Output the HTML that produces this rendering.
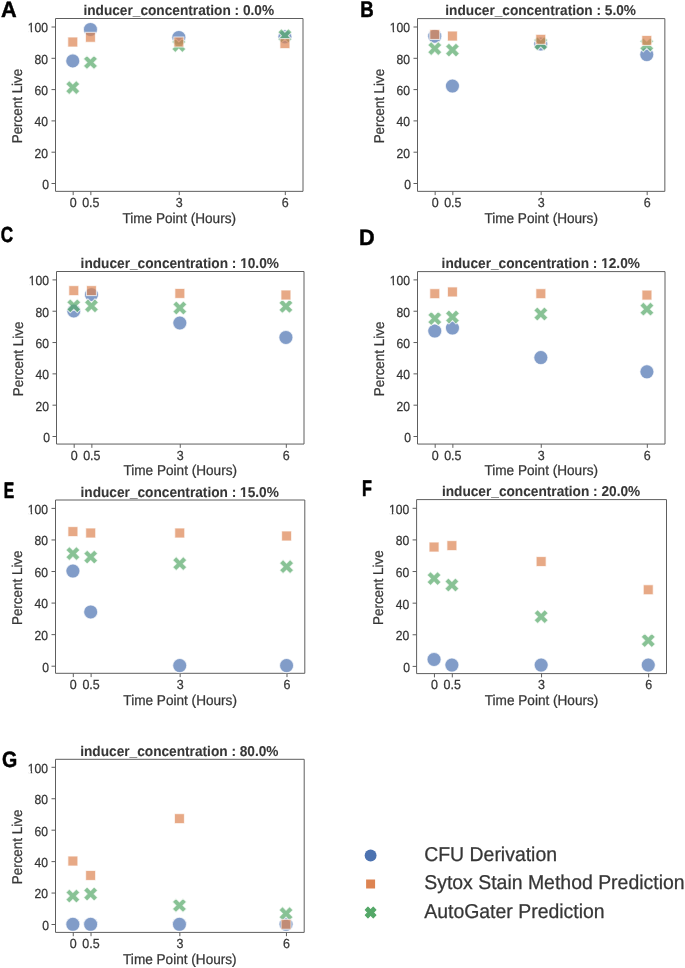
<!DOCTYPE html>
<html><head><meta charset="utf-8"><title>Percent Live vs Time Point</title>
<style>
html,body{margin:0;padding:0;background:#fff;}
body{width:685px;height:968px;overflow:hidden;font-family:"Liberation Sans",sans-serif;}
svg{display:block;will-change:transform;}
.t{stroke:#363636;stroke-width:0.25px;}
.tb{stroke:#363636;stroke-width:0.08px;}
</style></head><body>
<svg width="685" height="968" viewBox="0 0 685 968" font-family="'Liberation Sans', sans-serif" text-rendering="geometricPrecision" fill="#363636"><g><path d="M55.5 18.5H303V191.35H55.5Z" fill="none" stroke="#5e5e5e" stroke-width="1.0"/><line x1="51.5" y1="183.5" x2="55.5" y2="183.5" stroke="#5e5e5e" stroke-width="1.0"/><text class="t" transform="translate(49 188.9) scale(0.97 1.06)" text-anchor="end" font-size="12.5">0</text><line x1="51.5" y1="152.2" x2="55.5" y2="152.2" stroke="#5e5e5e" stroke-width="1.0"/><text class="t" transform="translate(48.1 157.6) scale(0.97 1.06)" text-anchor="end" font-size="12.5">20</text><line x1="51.5" y1="120.9" x2="55.5" y2="120.9" stroke="#5e5e5e" stroke-width="1.0"/><text class="t" transform="translate(48.1 126.3) scale(0.97 1.06)" text-anchor="end" font-size="12.5">40</text><line x1="51.5" y1="89.6" x2="55.5" y2="89.6" stroke="#5e5e5e" stroke-width="1.0"/><text class="t" transform="translate(48.1 95) scale(0.97 1.06)" text-anchor="end" font-size="12.5">60</text><line x1="51.5" y1="58.3" x2="55.5" y2="58.3" stroke="#5e5e5e" stroke-width="1.0"/><text class="t" transform="translate(48.1 63.7) scale(0.97 1.06)" text-anchor="end" font-size="12.5">80</text><line x1="51.5" y1="27" x2="55.5" y2="27" stroke="#5e5e5e" stroke-width="1.0"/><text class="t" transform="translate(48.1 32.4) scale(0.97 1.06)" text-anchor="end" font-size="12.5">100</text><g transform="translate(48.1 32.4) scale(0.97 1.06)" fill="#fff"><rect x="-20.6" y="-1.6" width="2.73" height="2.6"/><rect x="-16.45" y="-1.6" width="2.63" height="2.6"/></g><line x1="73.18" y1="191.35" x2="73.18" y2="195.15" stroke="#5e5e5e" stroke-width="1.0"/><text class="t" transform="translate(73.18 207.15) scale(1 1.06)" text-anchor="middle" font-size="12.5">0</text><line x1="90.86" y1="191.35" x2="90.86" y2="195.15" stroke="#5e5e5e" stroke-width="1.0"/><text class="t" transform="translate(90.86 207.15) scale(1 1.06)" text-anchor="middle" font-size="12.5">0.5</text><line x1="179.25" y1="191.35" x2="179.25" y2="195.15" stroke="#5e5e5e" stroke-width="1.0"/><text class="t" transform="translate(179.25 207.15) scale(1 1.06)" text-anchor="middle" font-size="12.5">3</text><line x1="285.32" y1="191.35" x2="285.32" y2="195.15" stroke="#5e5e5e" stroke-width="1.0"/><text class="t" transform="translate(285.32 207.15) scale(1 1.06)" text-anchor="middle" font-size="12.5">6</text><text class="t" transform="translate(179.25 222.75) scale(1 1.04)" text-anchor="middle" font-size="13.6">Time Point (Hours)</text><text class="t" transform="translate(21.6 106.02) rotate(-90) scale(0.987 1.04)" text-anchor="middle" font-size="13.6">Percent Live</text><text class="tb" transform="translate(178.75 15.3) scale(1 1.04)" text-anchor="middle" font-size="13.68" font-weight="bold">inducer_concentration : 0.0%</text><text transform="translate(1.03 16.62) scale(0.983 1)" font-size="22.1" font-weight="bold" fill="#000" stroke="#000" stroke-width="0.46" stroke-linejoin="round">A</text><circle cx="72.78" cy="60.88" r="7.05" fill="#4C72B0" fill-opacity="0.7" stroke="#fff" stroke-opacity="0.7" stroke-width="1.1"/><circle cx="90.46" cy="29.44" r="7.05" fill="#4C72B0" fill-opacity="0.7" stroke="#fff" stroke-opacity="0.7" stroke-width="1.1"/><circle cx="178.85" cy="37.46" r="7.05" fill="#4C72B0" fill-opacity="0.7" stroke="#fff" stroke-opacity="0.7" stroke-width="1.1"/><circle cx="284.92" cy="36.83" r="7.05" fill="#4C72B0" fill-opacity="0.7" stroke="#fff" stroke-opacity="0.7" stroke-width="1.1"/><polygon points="69.25,80.56 72.78,84.08 76.3,80.56 79.83,84.08 76.3,87.61 79.83,91.13 76.3,94.66 72.78,91.13 69.25,94.66 65.73,91.13 69.25,87.61 65.73,84.08" fill="#55A868" fill-opacity="0.7" stroke="#fff" stroke-opacity="0.7" stroke-width="1.1" stroke-linejoin="miter"/><polygon points="86.93,55.41 90.46,58.93 93.98,55.41 97.51,58.93 93.98,62.46 97.51,65.98 93.98,69.51 90.46,65.98 86.93,69.51 83.41,65.98 86.93,62.46 83.41,58.93" fill="#55A868" fill-opacity="0.7" stroke="#fff" stroke-opacity="0.7" stroke-width="1.1" stroke-linejoin="miter"/><polygon points="175.32,38.43 178.85,41.95 182.38,38.43 185.9,41.95 182.38,45.48 185.9,49 182.38,52.53 178.85,49 175.32,52.53 171.8,49 175.32,45.48 171.8,41.95" fill="#55A868" fill-opacity="0.7" stroke="#fff" stroke-opacity="0.7" stroke-width="1.1" stroke-linejoin="miter"/><polygon points="281.4,28.68 284.92,32.21 288.45,28.68 291.97,32.21 288.45,35.73 291.97,39.26 288.45,42.78 284.92,39.26 281.4,42.78 277.87,39.26 281.4,35.73 277.87,32.21" fill="#55A868" fill-opacity="0.7" stroke="#fff" stroke-opacity="0.7" stroke-width="1.1" stroke-linejoin="miter"/><rect x="67.79" y="37.03" width="9.97" height="9.97" fill="#DD8452" fill-opacity="0.7" stroke="#fff" stroke-opacity="0.7" stroke-width="1.1"/><rect x="85.47" y="32.32" width="9.97" height="9.97" fill="#DD8452" fill-opacity="0.7" stroke="#fff" stroke-opacity="0.7" stroke-width="1.1"/><rect x="173.86" y="37.03" width="9.97" height="9.97" fill="#DD8452" fill-opacity="0.7" stroke="#fff" stroke-opacity="0.7" stroke-width="1.1"/><rect x="279.94" y="38.61" width="9.97" height="9.97" fill="#DD8452" fill-opacity="0.7" stroke="#fff" stroke-opacity="0.7" stroke-width="1.1"/></g><g><path d="M417.5 18.6H664.85V191.35H417.5Z" fill="none" stroke="#5e5e5e" stroke-width="1.0"/><line x1="413.5" y1="183.5" x2="417.5" y2="183.5" stroke="#5e5e5e" stroke-width="1.0"/><text class="t" transform="translate(411 188.9) scale(0.97 1.06)" text-anchor="end" font-size="12.5">0</text><line x1="413.5" y1="152.2" x2="417.5" y2="152.2" stroke="#5e5e5e" stroke-width="1.0"/><text class="t" transform="translate(410.1 157.6) scale(0.97 1.06)" text-anchor="end" font-size="12.5">20</text><line x1="413.5" y1="120.9" x2="417.5" y2="120.9" stroke="#5e5e5e" stroke-width="1.0"/><text class="t" transform="translate(410.1 126.3) scale(0.97 1.06)" text-anchor="end" font-size="12.5">40</text><line x1="413.5" y1="89.6" x2="417.5" y2="89.6" stroke="#5e5e5e" stroke-width="1.0"/><text class="t" transform="translate(410.1 95) scale(0.97 1.06)" text-anchor="end" font-size="12.5">60</text><line x1="413.5" y1="58.3" x2="417.5" y2="58.3" stroke="#5e5e5e" stroke-width="1.0"/><text class="t" transform="translate(410.1 63.7) scale(0.97 1.06)" text-anchor="end" font-size="12.5">80</text><line x1="413.5" y1="27" x2="417.5" y2="27" stroke="#5e5e5e" stroke-width="1.0"/><text class="t" transform="translate(410.1 32.4) scale(0.97 1.06)" text-anchor="end" font-size="12.5">100</text><g transform="translate(410.1 32.4) scale(0.97 1.06)" fill="#fff"><rect x="-20.6" y="-1.6" width="2.73" height="2.6"/><rect x="-16.45" y="-1.6" width="2.63" height="2.6"/></g><line x1="435.17" y1="191.35" x2="435.17" y2="195.15" stroke="#5e5e5e" stroke-width="1.0"/><text class="t" transform="translate(435.17 207.15) scale(1 1.06)" text-anchor="middle" font-size="12.5">0</text><line x1="452.84" y1="191.35" x2="452.84" y2="195.15" stroke="#5e5e5e" stroke-width="1.0"/><text class="t" transform="translate(452.84 207.15) scale(1 1.06)" text-anchor="middle" font-size="12.5">0.5</text><line x1="541.17" y1="191.35" x2="541.17" y2="195.15" stroke="#5e5e5e" stroke-width="1.0"/><text class="t" transform="translate(541.17 207.15) scale(1 1.06)" text-anchor="middle" font-size="12.5">3</text><line x1="647.18" y1="191.35" x2="647.18" y2="195.15" stroke="#5e5e5e" stroke-width="1.0"/><text class="t" transform="translate(647.18 207.15) scale(1 1.06)" text-anchor="middle" font-size="12.5">6</text><text class="t" transform="translate(541.17 222.75) scale(1 1.04)" text-anchor="middle" font-size="13.6">Time Point (Hours)</text><text class="t" transform="translate(383.6 106.07) rotate(-90) scale(0.987 1.04)" text-anchor="middle" font-size="13.6">Percent Live</text><text class="tb" transform="translate(540.67 15.4) scale(1 1.04)" text-anchor="middle" font-size="13.68" font-weight="bold">inducer_concentration : 5.0%</text><text transform="translate(360.17 17.02) scale(0.820 1)" font-size="22.68" font-weight="bold" fill="#000" stroke="#000" stroke-width="0.55" stroke-linejoin="round">B</text><circle cx="434.77" cy="36.2" r="7.05" fill="#4C72B0" fill-opacity="0.7" stroke="#fff" stroke-opacity="0.7" stroke-width="1.1"/><circle cx="452.44" cy="86.04" r="7.05" fill="#4C72B0" fill-opacity="0.7" stroke="#fff" stroke-opacity="0.7" stroke-width="1.1"/><circle cx="540.77" cy="44.06" r="7.05" fill="#4C72B0" fill-opacity="0.7" stroke="#fff" stroke-opacity="0.7" stroke-width="1.1"/><circle cx="646.78" cy="54.6" r="7.05" fill="#4C72B0" fill-opacity="0.7" stroke="#fff" stroke-opacity="0.7" stroke-width="1.1"/><polygon points="431.24,41.57 434.77,45.1 438.29,41.57 441.82,45.1 438.29,48.62 441.82,52.15 438.29,55.67 434.77,52.15 431.24,55.67 427.72,52.15 431.24,48.62 427.72,45.1" fill="#55A868" fill-opacity="0.7" stroke="#fff" stroke-opacity="0.7" stroke-width="1.1" stroke-linejoin="miter"/><polygon points="448.91,42.99 452.44,46.51 455.96,42.99 459.49,46.51 455.96,50.04 459.49,53.56 455.96,57.09 452.44,53.56 448.91,57.09 445.39,53.56 448.91,50.04 445.39,46.51" fill="#55A868" fill-opacity="0.7" stroke="#fff" stroke-opacity="0.7" stroke-width="1.1" stroke-linejoin="miter"/><polygon points="537.25,36.54 540.77,40.07 544.3,36.54 547.82,40.07 544.3,43.59 547.82,47.12 544.3,50.64 540.77,47.12 537.25,50.64 533.73,47.12 537.25,43.59 533.73,40.07" fill="#55A868" fill-opacity="0.7" stroke="#fff" stroke-opacity="0.7" stroke-width="1.1" stroke-linejoin="miter"/><polygon points="643.26,37.8 646.78,41.32 650.31,37.8 653.83,41.32 650.31,44.85 653.83,48.37 650.31,51.9 646.78,48.37 643.26,51.9 639.73,48.37 643.26,44.85 639.73,41.32" fill="#55A868" fill-opacity="0.7" stroke="#fff" stroke-opacity="0.7" stroke-width="1.1" stroke-linejoin="miter"/><rect x="429.78" y="29.49" width="9.97" height="9.97" fill="#DD8452" fill-opacity="0.7" stroke="#fff" stroke-opacity="0.7" stroke-width="1.1"/><rect x="447.45" y="31.06" width="9.97" height="9.97" fill="#DD8452" fill-opacity="0.7" stroke="#fff" stroke-opacity="0.7" stroke-width="1.1"/><rect x="535.79" y="34.36" width="9.97" height="9.97" fill="#DD8452" fill-opacity="0.7" stroke="#fff" stroke-opacity="0.7" stroke-width="1.1"/><rect x="641.8" y="35.46" width="9.97" height="9.97" fill="#DD8452" fill-opacity="0.7" stroke="#fff" stroke-opacity="0.7" stroke-width="1.1"/></g><g><path d="M56.5 271.5H304V444.05H56.5Z" fill="none" stroke="#5e5e5e" stroke-width="1.0"/><line x1="52.5" y1="436.5" x2="56.5" y2="436.5" stroke="#5e5e5e" stroke-width="1.0"/><text class="t" transform="translate(50 441.9) scale(0.97 1.06)" text-anchor="end" font-size="12.5">0</text><line x1="52.5" y1="405.18" x2="56.5" y2="405.18" stroke="#5e5e5e" stroke-width="1.0"/><text class="t" transform="translate(49.1 410.58) scale(0.97 1.06)" text-anchor="end" font-size="12.5">20</text><line x1="52.5" y1="373.86" x2="56.5" y2="373.86" stroke="#5e5e5e" stroke-width="1.0"/><text class="t" transform="translate(49.1 379.26) scale(0.97 1.06)" text-anchor="end" font-size="12.5">40</text><line x1="52.5" y1="342.54" x2="56.5" y2="342.54" stroke="#5e5e5e" stroke-width="1.0"/><text class="t" transform="translate(49.1 347.94) scale(0.97 1.06)" text-anchor="end" font-size="12.5">60</text><line x1="52.5" y1="311.22" x2="56.5" y2="311.22" stroke="#5e5e5e" stroke-width="1.0"/><text class="t" transform="translate(49.1 316.62) scale(0.97 1.06)" text-anchor="end" font-size="12.5">80</text><line x1="52.5" y1="279.9" x2="56.5" y2="279.9" stroke="#5e5e5e" stroke-width="1.0"/><text class="t" transform="translate(49.1 285.3) scale(0.97 1.06)" text-anchor="end" font-size="12.5">100</text><g transform="translate(49.1 285.3) scale(0.97 1.06)" fill="#fff"><rect x="-20.6" y="-1.6" width="2.73" height="2.6"/><rect x="-16.45" y="-1.6" width="2.63" height="2.6"/></g><line x1="74.18" y1="444.05" x2="74.18" y2="447.85" stroke="#5e5e5e" stroke-width="1.0"/><text class="t" transform="translate(74.18 459.85) scale(1 1.06)" text-anchor="middle" font-size="12.5">0</text><line x1="91.86" y1="444.05" x2="91.86" y2="447.85" stroke="#5e5e5e" stroke-width="1.0"/><text class="t" transform="translate(91.86 459.85) scale(1 1.06)" text-anchor="middle" font-size="12.5">0.5</text><line x1="180.25" y1="444.05" x2="180.25" y2="447.85" stroke="#5e5e5e" stroke-width="1.0"/><text class="t" transform="translate(180.25 459.85) scale(1 1.06)" text-anchor="middle" font-size="12.5">3</text><line x1="286.32" y1="444.05" x2="286.32" y2="447.85" stroke="#5e5e5e" stroke-width="1.0"/><text class="t" transform="translate(286.32 459.85) scale(1 1.06)" text-anchor="middle" font-size="12.5">6</text><text class="t" transform="translate(180.25 475.45) scale(1 1.04)" text-anchor="middle" font-size="13.6">Time Point (Hours)</text><text class="t" transform="translate(22.6 358.88) rotate(-90) scale(0.987 1.04)" text-anchor="middle" font-size="13.6">Percent Live</text><text class="tb" transform="translate(179.75 268.3) scale(1 1.04)" text-anchor="middle" font-size="13.68" font-weight="bold">inducer_concentration : 10.0%</text><g transform="translate(179.75 268.3) scale(1 1.04)" fill="#fff"><rect x="60.68" y="-2.35" width="2.78" height="3.25"/><rect x="65.64" y="-2.35" width="2.36" height="3.25"/></g><text transform="translate(0.69 242.12) scale(0.787 1)" font-size="21.81" font-weight="bold" fill="#000" stroke="#000" stroke-width="0.57" stroke-linejoin="round">C</text><circle cx="73.78" cy="310.95" r="7.05" fill="#4C72B0" fill-opacity="0.7" stroke="#fff" stroke-opacity="0.7" stroke-width="1.1"/><circle cx="91.46" cy="294.68" r="7.05" fill="#4C72B0" fill-opacity="0.7" stroke="#fff" stroke-opacity="0.7" stroke-width="1.1"/><circle cx="179.85" cy="323" r="7.05" fill="#4C72B0" fill-opacity="0.7" stroke="#fff" stroke-opacity="0.7" stroke-width="1.1"/><circle cx="285.92" cy="337.39" r="7.05" fill="#4C72B0" fill-opacity="0.7" stroke="#fff" stroke-opacity="0.7" stroke-width="1.1"/><polygon points="70.25,298.74 73.78,302.27 77.3,298.74 80.83,302.27 77.3,305.79 80.83,309.32 77.3,312.84 73.78,309.32 70.25,312.84 66.73,309.32 70.25,305.79 66.73,302.27" fill="#55A868" fill-opacity="0.7" stroke="#fff" stroke-opacity="0.7" stroke-width="1.1" stroke-linejoin="miter"/><polygon points="87.93,298.9 91.46,302.42 94.98,298.9 98.51,302.42 94.98,305.95 98.51,309.47 94.98,313 91.46,309.47 87.93,313 84.41,309.47 87.93,305.95 84.41,302.42" fill="#55A868" fill-opacity="0.7" stroke="#fff" stroke-opacity="0.7" stroke-width="1.1" stroke-linejoin="miter"/><polygon points="176.32,300.93 179.85,304.46 183.38,300.93 186.9,304.46 183.38,307.98 186.9,311.51 183.38,315.03 179.85,311.51 176.32,315.03 172.8,311.51 176.32,307.98 172.8,304.46" fill="#55A868" fill-opacity="0.7" stroke="#fff" stroke-opacity="0.7" stroke-width="1.1" stroke-linejoin="miter"/><polygon points="282.4,299.37 285.92,302.89 289.45,299.37 292.97,302.89 289.45,306.42 292.97,309.94 289.45,313.47 285.92,309.94 282.4,313.47 278.87,309.94 282.4,306.42 278.87,302.89" fill="#55A868" fill-opacity="0.7" stroke="#fff" stroke-opacity="0.7" stroke-width="1.1" stroke-linejoin="miter"/><rect x="68.79" y="285.63" width="9.97" height="9.97" fill="#DD8452" fill-opacity="0.7" stroke="#fff" stroke-opacity="0.7" stroke-width="1.1"/><rect x="86.47" y="285.63" width="9.97" height="9.97" fill="#DD8452" fill-opacity="0.7" stroke="#fff" stroke-opacity="0.7" stroke-width="1.1"/><rect x="174.86" y="288.45" width="9.97" height="9.97" fill="#DD8452" fill-opacity="0.7" stroke="#fff" stroke-opacity="0.7" stroke-width="1.1"/><rect x="280.94" y="290.01" width="9.97" height="9.97" fill="#DD8452" fill-opacity="0.7" stroke="#fff" stroke-opacity="0.7" stroke-width="1.1"/></g><g><path d="M417.5 271.6H665V444.05H417.5Z" fill="none" stroke="#5e5e5e" stroke-width="1.0"/><line x1="413.5" y1="436.5" x2="417.5" y2="436.5" stroke="#5e5e5e" stroke-width="1.0"/><text class="t" transform="translate(411 441.9) scale(0.97 1.06)" text-anchor="end" font-size="12.5">0</text><line x1="413.5" y1="405.18" x2="417.5" y2="405.18" stroke="#5e5e5e" stroke-width="1.0"/><text class="t" transform="translate(410.1 410.58) scale(0.97 1.06)" text-anchor="end" font-size="12.5">20</text><line x1="413.5" y1="373.86" x2="417.5" y2="373.86" stroke="#5e5e5e" stroke-width="1.0"/><text class="t" transform="translate(410.1 379.26) scale(0.97 1.06)" text-anchor="end" font-size="12.5">40</text><line x1="413.5" y1="342.54" x2="417.5" y2="342.54" stroke="#5e5e5e" stroke-width="1.0"/><text class="t" transform="translate(410.1 347.94) scale(0.97 1.06)" text-anchor="end" font-size="12.5">60</text><line x1="413.5" y1="311.22" x2="417.5" y2="311.22" stroke="#5e5e5e" stroke-width="1.0"/><text class="t" transform="translate(410.1 316.62) scale(0.97 1.06)" text-anchor="end" font-size="12.5">80</text><line x1="413.5" y1="279.9" x2="417.5" y2="279.9" stroke="#5e5e5e" stroke-width="1.0"/><text class="t" transform="translate(410.1 285.3) scale(0.97 1.06)" text-anchor="end" font-size="12.5">100</text><g transform="translate(410.1 285.3) scale(0.97 1.06)" fill="#fff"><rect x="-20.6" y="-1.6" width="2.73" height="2.6"/><rect x="-16.45" y="-1.6" width="2.63" height="2.6"/></g><line x1="435.18" y1="444.05" x2="435.18" y2="447.85" stroke="#5e5e5e" stroke-width="1.0"/><text class="t" transform="translate(435.18 459.85) scale(1 1.06)" text-anchor="middle" font-size="12.5">0</text><line x1="452.86" y1="444.05" x2="452.86" y2="447.85" stroke="#5e5e5e" stroke-width="1.0"/><text class="t" transform="translate(452.86 459.85) scale(1 1.06)" text-anchor="middle" font-size="12.5">0.5</text><line x1="541.25" y1="444.05" x2="541.25" y2="447.85" stroke="#5e5e5e" stroke-width="1.0"/><text class="t" transform="translate(541.25 459.85) scale(1 1.06)" text-anchor="middle" font-size="12.5">3</text><line x1="647.32" y1="444.05" x2="647.32" y2="447.85" stroke="#5e5e5e" stroke-width="1.0"/><text class="t" transform="translate(647.32 459.85) scale(1 1.06)" text-anchor="middle" font-size="12.5">6</text><text class="t" transform="translate(541.25 475.45) scale(1 1.04)" text-anchor="middle" font-size="13.6">Time Point (Hours)</text><text class="t" transform="translate(383.6 358.93) rotate(-90) scale(0.987 1.04)" text-anchor="middle" font-size="13.6">Percent Live</text><text class="tb" transform="translate(540.75 268.4) scale(1 1.04)" text-anchor="middle" font-size="13.68" font-weight="bold">inducer_concentration : 12.0%</text><g transform="translate(540.75 268.4) scale(1 1.04)" fill="#fff"><rect x="60.68" y="-2.35" width="2.78" height="3.25"/><rect x="65.64" y="-2.35" width="2.36" height="3.25"/></g><text transform="translate(359.06 244.53) scale(0.969 1)" font-size="22.39" font-weight="bold" fill="#000" stroke="#000" stroke-width="0.46" stroke-linejoin="round">D</text><circle cx="434.78" cy="331.04" r="7.05" fill="#4C72B0" fill-opacity="0.7" stroke="#fff" stroke-opacity="0.7" stroke-width="1.1"/><circle cx="452.46" cy="328.07" r="7.05" fill="#4C72B0" fill-opacity="0.7" stroke="#fff" stroke-opacity="0.7" stroke-width="1.1"/><circle cx="540.85" cy="357.62" r="7.05" fill="#4C72B0" fill-opacity="0.7" stroke="#fff" stroke-opacity="0.7" stroke-width="1.1"/><circle cx="646.92" cy="371.85" r="7.05" fill="#4C72B0" fill-opacity="0.7" stroke="#fff" stroke-opacity="0.7" stroke-width="1.1"/><polygon points="431.25,311.48 434.78,315 438.3,311.48 441.83,315 438.3,318.53 441.83,322.05 438.3,325.58 434.78,322.05 431.25,325.58 427.73,322.05 431.25,318.53 427.73,315" fill="#55A868" fill-opacity="0.7" stroke="#fff" stroke-opacity="0.7" stroke-width="1.1" stroke-linejoin="miter"/><polygon points="448.93,309.92 452.46,313.44 455.98,309.92 459.51,313.44 455.98,316.97 459.51,320.49 455.98,324.02 452.46,320.49 448.93,324.02 445.41,320.49 448.93,316.97 445.41,313.44" fill="#55A868" fill-opacity="0.7" stroke="#fff" stroke-opacity="0.7" stroke-width="1.1" stroke-linejoin="miter"/><polygon points="537.33,306.95 540.85,310.47 544.38,306.95 547.9,310.47 544.38,314 547.9,317.52 544.38,321.05 540.85,317.52 537.33,321.05 533.8,317.52 537.33,314 533.8,310.47" fill="#55A868" fill-opacity="0.7" stroke="#fff" stroke-opacity="0.7" stroke-width="1.1" stroke-linejoin="miter"/><polygon points="643.4,302.1 646.92,305.62 650.45,302.1 653.97,305.62 650.45,309.15 653.97,312.67 650.45,316.2 646.92,312.67 643.4,316.2 639.87,312.67 643.4,309.15 639.87,305.62" fill="#55A868" fill-opacity="0.7" stroke="#fff" stroke-opacity="0.7" stroke-width="1.1" stroke-linejoin="miter"/><rect x="429.79" y="288.68" width="9.97" height="9.97" fill="#DD8452" fill-opacity="0.7" stroke="#fff" stroke-opacity="0.7" stroke-width="1.1"/><rect x="447.47" y="286.96" width="9.97" height="9.97" fill="#DD8452" fill-opacity="0.7" stroke="#fff" stroke-opacity="0.7" stroke-width="1.1"/><rect x="535.86" y="288.68" width="9.97" height="9.97" fill="#DD8452" fill-opacity="0.7" stroke="#fff" stroke-opacity="0.7" stroke-width="1.1"/><rect x="641.94" y="290.09" width="9.97" height="9.97" fill="#DD8452" fill-opacity="0.7" stroke="#fff" stroke-opacity="0.7" stroke-width="1.1"/></g><g><path d="M55.5 500H304.8V673.3H55.5Z" fill="none" stroke="#5e5e5e" stroke-width="1.0"/><line x1="51.5" y1="666.2" x2="55.5" y2="666.2" stroke="#5e5e5e" stroke-width="1.0"/><text class="t" transform="translate(49 671.6) scale(0.97 1.06)" text-anchor="end" font-size="12.5">0</text><line x1="51.5" y1="634.64" x2="55.5" y2="634.64" stroke="#5e5e5e" stroke-width="1.0"/><text class="t" transform="translate(48.1 640.04) scale(0.97 1.06)" text-anchor="end" font-size="12.5">20</text><line x1="51.5" y1="603.08" x2="55.5" y2="603.08" stroke="#5e5e5e" stroke-width="1.0"/><text class="t" transform="translate(48.1 608.48) scale(0.97 1.06)" text-anchor="end" font-size="12.5">40</text><line x1="51.5" y1="571.52" x2="55.5" y2="571.52" stroke="#5e5e5e" stroke-width="1.0"/><text class="t" transform="translate(48.1 576.92) scale(0.97 1.06)" text-anchor="end" font-size="12.5">60</text><line x1="51.5" y1="539.96" x2="55.5" y2="539.96" stroke="#5e5e5e" stroke-width="1.0"/><text class="t" transform="translate(48.1 545.36) scale(0.97 1.06)" text-anchor="end" font-size="12.5">80</text><line x1="51.5" y1="508.4" x2="55.5" y2="508.4" stroke="#5e5e5e" stroke-width="1.0"/><text class="t" transform="translate(48.1 513.8) scale(0.97 1.06)" text-anchor="end" font-size="12.5">100</text><g transform="translate(48.1 513.8) scale(0.97 1.06)" fill="#fff"><rect x="-20.6" y="-1.6" width="2.73" height="2.6"/><rect x="-16.45" y="-1.6" width="2.63" height="2.6"/></g><line x1="73.31" y1="673.3" x2="73.31" y2="677.1" stroke="#5e5e5e" stroke-width="1.0"/><text class="t" transform="translate(73.31 689.1) scale(1 1.06)" text-anchor="middle" font-size="12.5">0</text><line x1="91.11" y1="673.3" x2="91.11" y2="677.1" stroke="#5e5e5e" stroke-width="1.0"/><text class="t" transform="translate(91.11 689.1) scale(1 1.06)" text-anchor="middle" font-size="12.5">0.5</text><line x1="180.15" y1="673.3" x2="180.15" y2="677.1" stroke="#5e5e5e" stroke-width="1.0"/><text class="t" transform="translate(180.15 689.1) scale(1 1.06)" text-anchor="middle" font-size="12.5">3</text><line x1="286.99" y1="673.3" x2="286.99" y2="677.1" stroke="#5e5e5e" stroke-width="1.0"/><text class="t" transform="translate(286.99 689.1) scale(1 1.06)" text-anchor="middle" font-size="12.5">6</text><text class="t" transform="translate(180.15 704.7) scale(1 1.04)" text-anchor="middle" font-size="13.6">Time Point (Hours)</text><text class="t" transform="translate(21.6 587.75) rotate(-90) scale(0.987 1.04)" text-anchor="middle" font-size="13.6">Percent Live</text><text class="tb" transform="translate(179.65 496.8) scale(1 1.04)" text-anchor="middle" font-size="13.68" font-weight="bold">inducer_concentration : 15.0%</text><g transform="translate(179.65 496.8) scale(1 1.04)" fill="#fff"><rect x="60.68" y="-2.35" width="2.78" height="3.25"/><rect x="65.64" y="-2.35" width="2.36" height="3.25"/></g><text transform="translate(3.66 497.52) scale(0.700 1)" font-size="22.39" font-weight="bold" fill="#000" stroke="#000" stroke-width="0.64" stroke-linejoin="round">E</text><circle cx="72.91" cy="571.06" r="7.05" fill="#4C72B0" fill-opacity="0.7" stroke="#fff" stroke-opacity="0.7" stroke-width="1.1"/><circle cx="90.71" cy="611.96" r="7.05" fill="#4C72B0" fill-opacity="0.7" stroke="#fff" stroke-opacity="0.7" stroke-width="1.1"/><circle cx="179.75" cy="665.6" r="7.05" fill="#4C72B0" fill-opacity="0.7" stroke="#fff" stroke-opacity="0.7" stroke-width="1.1"/><circle cx="286.59" cy="665.6" r="7.05" fill="#4C72B0" fill-opacity="0.7" stroke="#fff" stroke-opacity="0.7" stroke-width="1.1"/><polygon points="69.38,546.55 72.91,550.08 76.43,546.55 79.96,550.08 76.43,553.6 79.96,557.13 76.43,560.65 72.91,557.13 69.38,560.65 65.86,557.13 69.38,553.6 65.86,550.08" fill="#55A868" fill-opacity="0.7" stroke="#fff" stroke-opacity="0.7" stroke-width="1.1" stroke-linejoin="miter"/><polygon points="87.19,550.01 90.71,553.54 94.24,550.01 97.76,553.54 94.24,557.06 97.76,560.59 94.24,564.11 90.71,560.59 87.19,564.11 83.66,560.59 87.19,557.06 83.66,553.54" fill="#55A868" fill-opacity="0.7" stroke="#fff" stroke-opacity="0.7" stroke-width="1.1" stroke-linejoin="miter"/><polygon points="176.22,556.62 179.75,560.14 183.28,556.62 186.8,560.14 183.28,563.67 186.8,567.19 183.28,570.72 179.75,567.19 176.22,570.72 172.7,567.19 176.22,563.67 172.7,560.14" fill="#55A868" fill-opacity="0.7" stroke="#fff" stroke-opacity="0.7" stroke-width="1.1" stroke-linejoin="miter"/><polygon points="283.07,559.61 286.59,563.13 290.12,559.61 293.64,563.13 290.12,566.66 293.64,570.18 290.12,573.71 286.59,570.18 283.07,573.71 279.54,570.18 283.07,566.66 279.54,563.13" fill="#55A868" fill-opacity="0.7" stroke="#fff" stroke-opacity="0.7" stroke-width="1.1" stroke-linejoin="miter"/><rect x="67.92" y="526.6" width="9.97" height="9.97" fill="#DD8452" fill-opacity="0.7" stroke="#fff" stroke-opacity="0.7" stroke-width="1.1"/><rect x="85.73" y="528.01" width="9.97" height="9.97" fill="#DD8452" fill-opacity="0.7" stroke="#fff" stroke-opacity="0.7" stroke-width="1.1"/><rect x="174.76" y="528.01" width="9.97" height="9.97" fill="#DD8452" fill-opacity="0.7" stroke="#fff" stroke-opacity="0.7" stroke-width="1.1"/><rect x="281.61" y="531" width="9.97" height="9.97" fill="#DD8452" fill-opacity="0.7" stroke="#fff" stroke-opacity="0.7" stroke-width="1.1"/></g><g><path d="M416.6 499.6H666.5V673.6H416.6Z" fill="none" stroke="#5e5e5e" stroke-width="1.0"/><line x1="412.6" y1="666.4" x2="416.6" y2="666.4" stroke="#5e5e5e" stroke-width="1.0"/><text class="t" transform="translate(410.1 671.8) scale(0.97 1.06)" text-anchor="end" font-size="12.5">0</text><line x1="412.6" y1="634.78" x2="416.6" y2="634.78" stroke="#5e5e5e" stroke-width="1.0"/><text class="t" transform="translate(409.2 640.18) scale(0.97 1.06)" text-anchor="end" font-size="12.5">20</text><line x1="412.6" y1="603.16" x2="416.6" y2="603.16" stroke="#5e5e5e" stroke-width="1.0"/><text class="t" transform="translate(409.2 608.56) scale(0.97 1.06)" text-anchor="end" font-size="12.5">40</text><line x1="412.6" y1="571.54" x2="416.6" y2="571.54" stroke="#5e5e5e" stroke-width="1.0"/><text class="t" transform="translate(409.2 576.94) scale(0.97 1.06)" text-anchor="end" font-size="12.5">60</text><line x1="412.6" y1="539.92" x2="416.6" y2="539.92" stroke="#5e5e5e" stroke-width="1.0"/><text class="t" transform="translate(409.2 545.32) scale(0.97 1.06)" text-anchor="end" font-size="12.5">80</text><line x1="412.6" y1="508.3" x2="416.6" y2="508.3" stroke="#5e5e5e" stroke-width="1.0"/><text class="t" transform="translate(409.2 513.7) scale(0.97 1.06)" text-anchor="end" font-size="12.5">100</text><g transform="translate(409.2 513.7) scale(0.97 1.06)" fill="#fff"><rect x="-20.6" y="-1.6" width="2.73" height="2.6"/><rect x="-16.45" y="-1.6" width="2.63" height="2.6"/></g><line x1="434.45" y1="673.6" x2="434.45" y2="677.4" stroke="#5e5e5e" stroke-width="1.0"/><text class="t" transform="translate(434.45 689.4) scale(1 1.06)" text-anchor="middle" font-size="12.5">0</text><line x1="452.3" y1="673.6" x2="452.3" y2="677.4" stroke="#5e5e5e" stroke-width="1.0"/><text class="t" transform="translate(452.3 689.4) scale(1 1.06)" text-anchor="middle" font-size="12.5">0.5</text><line x1="541.55" y1="673.6" x2="541.55" y2="677.4" stroke="#5e5e5e" stroke-width="1.0"/><text class="t" transform="translate(541.55 689.4) scale(1 1.06)" text-anchor="middle" font-size="12.5">3</text><line x1="648.65" y1="673.6" x2="648.65" y2="677.4" stroke="#5e5e5e" stroke-width="1.0"/><text class="t" transform="translate(648.65 689.4) scale(1 1.06)" text-anchor="middle" font-size="12.5">6</text><text class="t" transform="translate(541.55 705) scale(1 1.04)" text-anchor="middle" font-size="13.6">Time Point (Hours)</text><text class="t" transform="translate(382.7 587.7) rotate(-90) scale(0.987 1.04)" text-anchor="middle" font-size="13.6">Percent Live</text><text class="tb" transform="translate(541.05 496.4) scale(1 1.04)" text-anchor="middle" font-size="13.68" font-weight="bold">inducer_concentration : 20.0%</text><text transform="translate(362.12 496.42) scale(0.713 1)" font-size="22.68" font-weight="bold" fill="#000" stroke="#000" stroke-width="0.63" stroke-linejoin="round">F</text><circle cx="434.05" cy="659.42" r="7.05" fill="#4C72B0" fill-opacity="0.7" stroke="#fff" stroke-opacity="0.7" stroke-width="1.1"/><circle cx="451.9" cy="665.1" r="7.05" fill="#4C72B0" fill-opacity="0.7" stroke="#fff" stroke-opacity="0.7" stroke-width="1.1"/><circle cx="541.15" cy="665.1" r="7.05" fill="#4C72B0" fill-opacity="0.7" stroke="#fff" stroke-opacity="0.7" stroke-width="1.1"/><circle cx="648.25" cy="665.1" r="7.05" fill="#4C72B0" fill-opacity="0.7" stroke="#fff" stroke-opacity="0.7" stroke-width="1.1"/><polygon points="430.53,571.51 434.05,575.03 437.58,571.51 441.1,575.03 437.58,578.56 441.1,582.08 437.58,585.61 434.05,582.08 430.53,585.61 427,582.08 430.53,578.56 427,575.03" fill="#55A868" fill-opacity="0.7" stroke="#fff" stroke-opacity="0.7" stroke-width="1.1" stroke-linejoin="miter"/><polygon points="448.38,577.97 451.9,581.49 455.43,577.97 458.95,581.49 455.43,585.02 458.95,588.54 455.43,592.07 451.9,588.54 448.38,592.07 444.85,588.54 448.38,585.02 444.85,581.49" fill="#55A868" fill-opacity="0.7" stroke="#fff" stroke-opacity="0.7" stroke-width="1.1" stroke-linejoin="miter"/><polygon points="537.62,609.65 541.15,613.18 544.67,609.65 548.2,613.18 544.67,616.7 548.2,620.23 544.67,623.75 541.15,620.23 537.62,623.75 534.1,620.23 537.62,616.7 534.1,613.18" fill="#55A868" fill-opacity="0.7" stroke="#fff" stroke-opacity="0.7" stroke-width="1.1" stroke-linejoin="miter"/><polygon points="644.73,633.46 648.25,636.98 651.77,633.46 655.3,636.98 651.77,640.51 655.3,644.03 651.77,647.56 648.25,644.03 644.73,647.56 641.2,644.03 644.73,640.51 641.2,636.98" fill="#55A868" fill-opacity="0.7" stroke="#fff" stroke-opacity="0.7" stroke-width="1.1" stroke-linejoin="miter"/><rect x="429.06" y="542.04" width="9.97" height="9.97" fill="#DD8452" fill-opacity="0.7" stroke="#fff" stroke-opacity="0.7" stroke-width="1.1"/><rect x="446.91" y="540.62" width="9.97" height="9.97" fill="#DD8452" fill-opacity="0.7" stroke="#fff" stroke-opacity="0.7" stroke-width="1.1"/><rect x="536.16" y="556.55" width="9.97" height="9.97" fill="#DD8452" fill-opacity="0.7" stroke="#fff" stroke-opacity="0.7" stroke-width="1.1"/><rect x="643.26" y="584.76" width="9.97" height="9.97" fill="#DD8452" fill-opacity="0.7" stroke="#fff" stroke-opacity="0.7" stroke-width="1.1"/></g><g><path d="M55.5 759.3H304.2V932.4H55.5Z" fill="none" stroke="#5e5e5e" stroke-width="1.0"/><line x1="51.5" y1="924.5" x2="55.5" y2="924.5" stroke="#5e5e5e" stroke-width="1.0"/><text class="t" transform="translate(49 929.9) scale(0.97 1.06)" text-anchor="end" font-size="12.5">0</text><line x1="51.5" y1="893.06" x2="55.5" y2="893.06" stroke="#5e5e5e" stroke-width="1.0"/><text class="t" transform="translate(48.1 898.46) scale(0.97 1.06)" text-anchor="end" font-size="12.5">20</text><line x1="51.5" y1="861.62" x2="55.5" y2="861.62" stroke="#5e5e5e" stroke-width="1.0"/><text class="t" transform="translate(48.1 867.02) scale(0.97 1.06)" text-anchor="end" font-size="12.5">40</text><line x1="51.5" y1="830.18" x2="55.5" y2="830.18" stroke="#5e5e5e" stroke-width="1.0"/><text class="t" transform="translate(48.1 835.58) scale(0.97 1.06)" text-anchor="end" font-size="12.5">60</text><line x1="51.5" y1="798.74" x2="55.5" y2="798.74" stroke="#5e5e5e" stroke-width="1.0"/><text class="t" transform="translate(48.1 804.14) scale(0.97 1.06)" text-anchor="end" font-size="12.5">80</text><line x1="51.5" y1="767.3" x2="55.5" y2="767.3" stroke="#5e5e5e" stroke-width="1.0"/><text class="t" transform="translate(48.1 772.7) scale(0.97 1.06)" text-anchor="end" font-size="12.5">100</text><g transform="translate(48.1 772.7) scale(0.97 1.06)" fill="#fff"><rect x="-20.6" y="-1.6" width="2.73" height="2.6"/><rect x="-16.45" y="-1.6" width="2.63" height="2.6"/></g><line x1="73.26" y1="932.4" x2="73.26" y2="936.2" stroke="#5e5e5e" stroke-width="1.0"/><text class="t" transform="translate(73.26 948.2) scale(1 1.06)" text-anchor="middle" font-size="12.5">0</text><line x1="91.03" y1="932.4" x2="91.03" y2="936.2" stroke="#5e5e5e" stroke-width="1.0"/><text class="t" transform="translate(91.03 948.2) scale(1 1.06)" text-anchor="middle" font-size="12.5">0.5</text><line x1="179.85" y1="932.4" x2="179.85" y2="936.2" stroke="#5e5e5e" stroke-width="1.0"/><text class="t" transform="translate(179.85 948.2) scale(1 1.06)" text-anchor="middle" font-size="12.5">3</text><line x1="286.44" y1="932.4" x2="286.44" y2="936.2" stroke="#5e5e5e" stroke-width="1.0"/><text class="t" transform="translate(286.44 948.2) scale(1 1.06)" text-anchor="middle" font-size="12.5">6</text><text class="t" transform="translate(179.85 963.8) scale(1 1.04)" text-anchor="middle" font-size="13.6">Time Point (Hours)</text><text class="t" transform="translate(21.6 846.95) rotate(-90) scale(0.987 1.04)" text-anchor="middle" font-size="13.6">Percent Live</text><text class="tb" transform="translate(179.35 756.1) scale(1 1.04)" text-anchor="middle" font-size="13.68" font-weight="bold">inducer_concentration : 80.0%</text><text transform="translate(1.89 766.92) scale(0.882 1)" font-size="22.25" font-weight="bold" fill="#000" stroke="#000" stroke-width="0.51" stroke-linejoin="round">G</text><circle cx="72.86" cy="924.3" r="7.05" fill="#4C72B0" fill-opacity="0.7" stroke="#fff" stroke-opacity="0.7" stroke-width="1.1"/><circle cx="90.63" cy="924.3" r="7.05" fill="#4C72B0" fill-opacity="0.7" stroke="#fff" stroke-opacity="0.7" stroke-width="1.1"/><circle cx="179.45" cy="924.3" r="7.05" fill="#4C72B0" fill-opacity="0.7" stroke="#fff" stroke-opacity="0.7" stroke-width="1.1"/><circle cx="286.04" cy="924.3" r="7.05" fill="#4C72B0" fill-opacity="0.7" stroke="#fff" stroke-opacity="0.7" stroke-width="1.1"/><polygon points="69.34,888.99 72.86,892.51 76.39,888.99 79.91,892.51 76.39,896.04 79.91,899.56 76.39,903.09 72.86,899.56 69.34,903.09 65.81,899.56 69.34,896.04 65.81,892.51" fill="#55A868" fill-opacity="0.7" stroke="#fff" stroke-opacity="0.7" stroke-width="1.1" stroke-linejoin="miter"/><polygon points="87.1,886.95 90.63,890.47 94.15,886.95 97.68,890.47 94.15,894 97.68,897.52 94.15,901.05 90.63,897.52 87.1,901.05 83.58,897.52 87.1,894 83.58,890.47" fill="#55A868" fill-opacity="0.7" stroke="#fff" stroke-opacity="0.7" stroke-width="1.1" stroke-linejoin="miter"/><polygon points="175.92,898.41 179.45,901.93 182.97,898.41 186.5,901.93 182.97,905.46 186.5,908.98 182.97,912.51 179.45,908.98 175.92,912.51 172.4,908.98 175.92,905.46 172.4,901.93" fill="#55A868" fill-opacity="0.7" stroke="#fff" stroke-opacity="0.7" stroke-width="1.1" stroke-linejoin="miter"/><polygon points="282.51,906.57 286.04,910.1 289.56,906.57 293.09,910.1 289.56,913.62 293.09,917.15 289.56,920.67 286.04,917.15 282.51,920.67 278.99,917.15 282.51,913.62 278.99,910.1" fill="#55A868" fill-opacity="0.7" stroke="#fff" stroke-opacity="0.7" stroke-width="1.1" stroke-linejoin="miter"/><rect x="67.88" y="856.04" width="9.97" height="9.97" fill="#DD8452" fill-opacity="0.7" stroke="#fff" stroke-opacity="0.7" stroke-width="1.1"/><rect x="85.64" y="870.49" width="9.97" height="9.97" fill="#DD8452" fill-opacity="0.7" stroke="#fff" stroke-opacity="0.7" stroke-width="1.1"/><rect x="174.46" y="813.65" width="9.97" height="9.97" fill="#DD8452" fill-opacity="0.7" stroke="#fff" stroke-opacity="0.7" stroke-width="1.1"/><rect x="281.05" y="919.31" width="9.97" height="9.97" fill="#DD8452" fill-opacity="0.7" stroke="#fff" stroke-opacity="0.7" stroke-width="1.1"/></g><g><circle cx="370.6" cy="855.5" r="5.95" fill="#4C72B0" fill-opacity="1" stroke="#fff" stroke-opacity="1" stroke-width="0"/><rect x="366.11" y="879.51" width="8.98" height="8.98" fill="#DD8452" fill-opacity="1" stroke="#fff" stroke-opacity="1" stroke-width="0"/><polygon points="367.95,907.2 370.6,909.85 373.25,907.2 375.9,909.85 373.25,912.5 375.9,915.15 373.25,917.8 370.6,915.15 367.95,917.8 365.3,915.15 367.95,912.5 365.3,909.85" fill="#55A868" fill-opacity="1" stroke="#55A868" stroke-opacity="1" stroke-width="1.1" stroke-linejoin="round"/><text class="t" transform="translate(424.2 860.5) scale(1 1.03)" font-size="19.45">CFU Derivation</text><text class="t" transform="translate(424.2 889) scale(1 1.03)" font-size="19.45">Sytox Stain Method Prediction</text><text class="t" transform="translate(424.2 917.5) scale(1 1.03)" font-size="19.45">AutoGater Prediction</text></g></svg>
</body></html>
